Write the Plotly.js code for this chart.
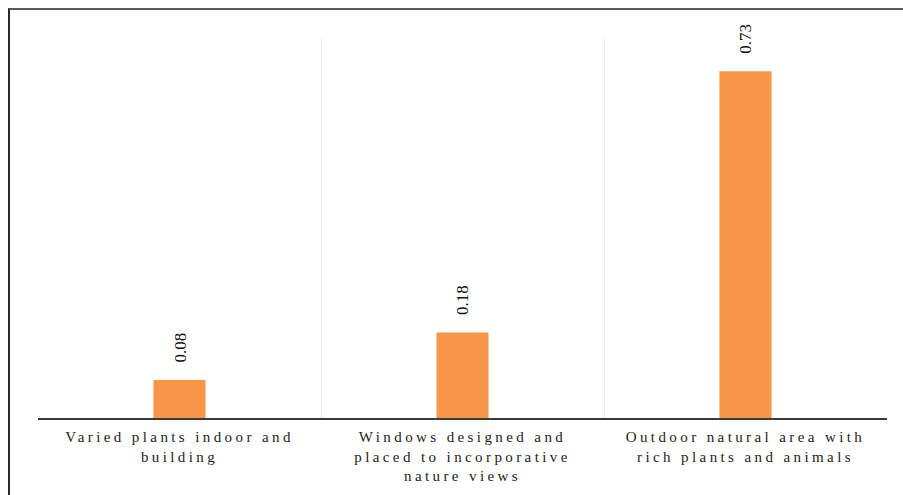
<!DOCTYPE html>
<html>
<head>
<meta charset="utf-8">
<script src="https://cdn.plot.ly/plotly-3.0.1.min.js"></script>
<style>
  html, body { margin: 0; padding: 0; background: #fff; }
  #wrap { position: relative; width: 903px; height: 495px; }
  #chart { position: absolute; left: 0; top: 0; width: 903px; height: 495px; }
  #frame { position: absolute; left: 8px; top: 8px; right: -4px; bottom: -4px;
           border-top: 2px solid #5a5a5a; border-left: 2px solid #2a2a2a; pointer-events: none; }
  .xtick text { letter-spacing: 3.4px; }
</style>
</head>
<body>
<div id="wrap">
  <div id="chart"></div>
  <div id="frame"></div>
</div>
<script>
// Biophilic design features and their scores
const categories = [
  "Varied plants indoor and<br>building",
  "Windows designed and<br>placed to incorporative<br>nature views",
  "Outdoor natural area with<br>rich plants and animals"
];
const scores = [0.08, 0.18, 0.73];
const valueLabels = ["0.08", "0.18", "0.73"];

const barColor = "#F79646";
const serif = "'Liberation Serif', 'Times New Roman', serif";

const trace = {
  type: "bar",
  x: categories,
  y: scores,
  width: 0.184,
  marker: { color: barColor },
  hoverinfo: "skip"
};

// rotated value labels sitting above each bar
const annotations = categories.map((c, i) => ({
  x: c,
  y: scores[i],
  xref: "x",
  yref: "y",
  text: valueLabels[i],
  textangle: -90,
  showarrow: false,
  yanchor: "bottom",
  xanchor: "center",
  yshift: 15,
  font: { family: serif, size: 17, color: "#111" }
}));

const layout = {
  width: 903,
  height: 495,
  margin: { l: 38, r: 16, t: 38, b: 77 },
  paper_bgcolor: "#fff",
  plot_bgcolor: "#fff",
  showlegend: false,
  xaxis: {
    type: "category",
    range: [-0.5, 2.5],
    tickson: "boundaries",
    showgrid: true,
    gridcolor: "#eeeeee",
    gridwidth: 1,
    ticks: "",
    showline: true,
    linecolor: "#3a3a3a",
    linewidth: 2,
    zeroline: false,
    tickfont: { family: serif, size: 15, color: "#222" },
    ticklabelstandoff: 4
  },
  yaxis: {
    range: [0, 0.8],
    showgrid: false,
    zeroline: false,
    showline: false,
    showticklabels: false,
    ticks: ""
  },
  annotations: annotations
};

Plotly.newPlot("chart", [trace], layout, { displayModeBar: false, staticPlot: true });
</script>
</body>
</html>
